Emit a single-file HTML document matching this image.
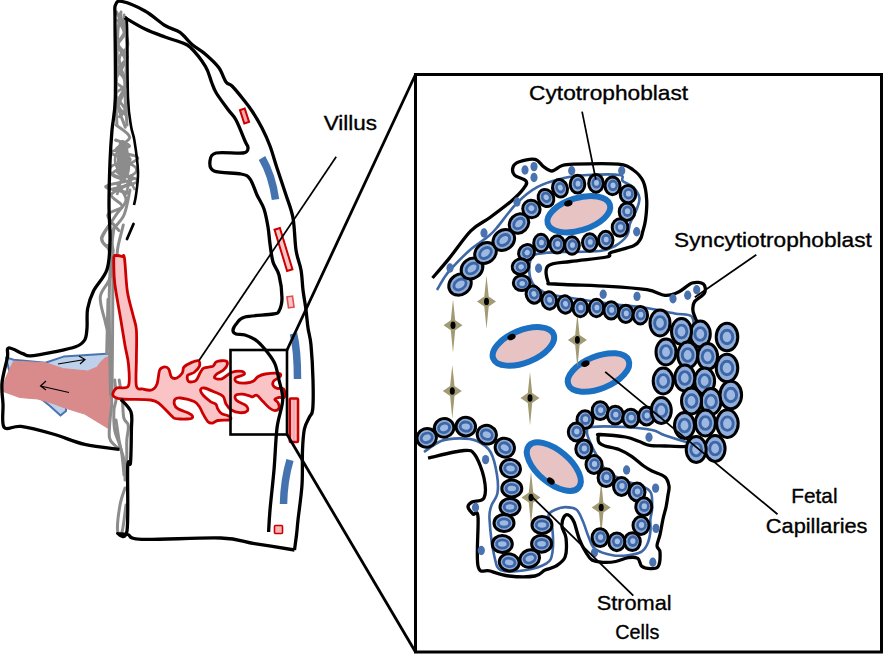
<!DOCTYPE html>
<html><head><meta charset="utf-8"><style>
html,body{margin:0;padding:0;background:#fff;}
svg{display:block;}
text{font-family:"Liberation Sans",sans-serif;fill:#000;}
</style></head><body>
<svg width="888" height="661" viewBox="0 0 888 661">
<rect width="888" height="661" fill="#fff"/>
<polygon points="6,357.4 13.6,359.7 45.4,362.7 63.5,356.6 110.4,353.6 110.4,384 66,404 66,411 60.5,415.6 50,406 40,398 20,394 9,370" fill="#bdd1ea" stroke="#4a74b0" stroke-width="2" stroke-linejoin="round"/>
<polygon points="13.6,361.2 45.4,362.7 63.5,368.7 87.7,371 96.8,367.2 101.4,361.2 105.9,357.4 110,356.6 110,429.5 84.7,414.1 65,408 53,403.5 37.8,399 19.7,397.5 3,391.4 1.5,388.4 9,370.3" fill="#d98a8b" stroke="#d98a8b" stroke-width="1" stroke-linejoin="round"/>
<path d="M58,364 L85,359.5 M79,356 L85,359.5 L80,364" fill="none" stroke="#000" stroke-width="1.2"/>
<path d="M69,392.5 L40.5,386 M46,381 L40.5,386 L46,390" fill="none" stroke="#000" stroke-width="1.2"/>
<path d="M119,142 C122,138 127,140 128,148 L130,160 C131,170 129,178 124,180 C118,178 116,168 117,158 Z" fill="#8c8c8c"/>
<ellipse cx="123" cy="170" rx="13.5" ry="7" fill="none" stroke="#8c8c8c" stroke-width="2.6"/>
<ellipse cx="121" cy="160" rx="6" ry="10" fill="none" stroke="#8c8c8c" stroke-width="2.6"/>
<path d="M127,175 L135,190 M121,180 L117,195 M130,178 L126,195" stroke="#8c8c8c" stroke-width="2.6" fill="none"/>
<path d="M116.6,12.0 C117.9,15.4 124.5,26.9 124.7,32.4 C124.9,38.0 117.7,40.6 117.8,45.3 C117.9,50.0 125.5,54.8 125.2,60.7 C124.8,66.5 115.9,75.4 115.7,80.4 C115.6,85.3 123.8,86.1 124.3,90.3 C124.7,94.5 118.2,101.3 118.5,105.5 C118.8,109.6 124.7,113.5 126.0,115.1" fill="none" stroke="#8c8c8c" stroke-width="3" stroke-linejoin="round" stroke-linecap="round"/>
<path d="M120.0,14.0 C121.3,19.0 127.9,36.5 127.8,43.9 C127.6,51.3 119.6,51.8 119.2,58.6 C118.7,65.4 125.2,77.3 125.0,84.7 C124.8,92.2 117.8,96.3 117.8,103.4 C117.9,110.4 124.1,123.3 125.3,127.2" fill="none" stroke="#8c8c8c" stroke-width="3" stroke-linejoin="round" stroke-linecap="round"/>
<path d="M117.8,20.0 C118.9,22.1 124.0,28.5 124.1,32.6 C124.1,36.6 117.3,40.2 117.9,44.2 C118.4,48.3 127.1,52.9 127.2,57.1 C127.3,61.2 118.1,64.7 118.2,69.2 C118.3,73.7 128.0,79.9 127.6,84.0 C127.1,88.2 116.0,89.9 115.6,94.1 C115.1,98.3 124.2,105.3 124.9,109.1 C125.5,112.9 120.3,115.4 119.4,116.7" fill="none" stroke="#8c8c8c" stroke-width="3" stroke-linejoin="round" stroke-linecap="round"/>
<path d="M121.0,12.0 C120.5,15.0 118.7,22.0 118.0,30.0 C117.3,38.0 117.3,48.3 117.0,60.0 C116.7,71.7 116.0,89.2 116.0,100.0 C116.0,110.8 116.8,120.8 117.0,125.0" fill="none" stroke="#8c8c8c" stroke-width="3" stroke-linejoin="round" stroke-linecap="round"/>
<path d="M124.0,15.0 C124.5,20.8 126.8,37.5 127.0,50.0 C127.2,62.5 125.0,77.5 125.0,90.0 C125.0,102.5 126.7,119.2 127.0,125.0" fill="none" stroke="#8c8c8c" stroke-width="3" stroke-linejoin="round" stroke-linecap="round"/>
<path d="M116.0,125.0 C118.2,127.1 129.6,133.2 129.7,137.4 C129.7,141.7 114.8,147.0 116.1,150.4 C117.5,153.9 138.5,154.4 137.9,158.3 C137.3,162.1 114.1,169.4 112.5,173.5 C110.9,177.6 128.5,179.4 128.2,182.9 C128.0,186.5 112.3,190.7 111.3,194.7 C110.3,198.6 122.8,203.0 122.2,206.4 C121.6,209.8 108.2,211.0 107.7,215.1 C107.2,219.1 117.1,228.0 119.0,230.6" fill="none" stroke="#8c8c8c" stroke-width="3" stroke-linejoin="round" stroke-linecap="round"/>
<path d="M115.5,140.0 C117.8,141.0 130.3,144.0 129.5,146.1 C128.7,148.3 110.7,150.2 110.7,152.7 C110.6,155.1 127.9,157.7 129.0,161.0 C130.1,164.2 116.9,169.1 117.5,172.1 C118.1,175.1 134.7,176.7 132.7,179.1 C130.8,181.5 106.3,184.2 105.6,186.5 C104.9,188.8 124.6,191.6 128.5,192.7" fill="none" stroke="#8c8c8c" stroke-width="3" stroke-linejoin="round" stroke-linecap="round"/>
<path d="M116.1,150.0 C118.5,151.6 130.0,156.2 130.2,159.5 C130.4,162.9 116.0,166.8 117.3,170.4 C118.5,174.0 138.4,178.0 137.7,181.1 C137.0,184.2 117.0,187.6 112.9,188.9" fill="none" stroke="#8c8c8c" stroke-width="3" stroke-linejoin="round" stroke-linecap="round"/>
<path d="M118.0,185.0 C119.3,187.5 126.3,195.0 126.0,200.0 C125.7,205.0 120.0,208.7 116.0,215.0 C112.0,221.3 103.3,232.5 102.0,238.0 C100.7,243.5 106.3,244.7 108.0,248.0 C109.7,251.3 111.3,256.3 112.0,258.0" fill="none" stroke="#8c8c8c" stroke-width="3" stroke-linejoin="round" stroke-linecap="round"/>
<path d="M130.0,190.0 C129.0,194.2 127.0,208.0 124.0,215.0 C121.0,222.0 113.8,226.2 112.0,232.0 C110.2,237.8 112.8,247.0 113.0,250.0" fill="none" stroke="#8c8c8c" stroke-width="3" stroke-linejoin="round" stroke-linecap="round"/>
<path d="M109.2,225.0 C107.9,227.1 102.1,234.4 101.5,237.8 C100.9,241.2 103.9,243.4 105.4,245.5 C106.9,247.6 109.9,241.2 110.5,250.6 C111.1,260.0 109.2,278.0 109.2,302.0 C109.2,326.0 110.3,379.1 110.5,394.5" fill="none" stroke="#8c8c8c" stroke-width="3" stroke-linejoin="round" stroke-linecap="round"/>
<path d="M114.4,225.0 C114.0,228.4 112.5,236.9 111.8,245.5 C111.1,254.1 112.4,267.8 110.5,276.3 C108.6,284.9 101.1,289.1 100.3,296.8 C99.5,304.5 103.9,315.1 105.4,322.4 C106.9,329.7 108.3,330.8 109.2,340.4 C110.1,350.0 110.7,373.4 111.0,380.0" fill="none" stroke="#8c8c8c" stroke-width="3" stroke-linejoin="round" stroke-linecap="round"/>
<path d="M108,299.4 L106.7,353.2" fill="none" stroke="#8c8c8c" stroke-width="3" stroke-linejoin="round" stroke-linecap="round"/>
<path d="M123.3,225.0 C122.5,228.4 119.2,240.4 118.2,245.5 C117.2,250.6 117.2,254.1 117.0,255.8" fill="none" stroke="#8c8c8c" stroke-width="3" stroke-linejoin="round" stroke-linecap="round"/>
<path d="M113.0,250.0 C112.9,263.3 112.8,306.0 112.6,330.0 C112.4,354.0 112.1,383.3 112.0,394.0" fill="none" stroke="#8c8c8c" stroke-width="3" stroke-linejoin="round" stroke-linecap="round"/>
<path d="M110.2,380.0 C110.5,383.8 111.7,396.4 111.7,402.7 C111.7,409.0 110.6,412.1 110.2,417.9 C109.8,423.7 108.7,433.1 109.4,437.6 C110.2,442.2 112.8,443.2 114.7,445.2 C116.6,447.2 119.8,448.9 120.8,449.7" fill="none" stroke="#8c8c8c" stroke-width="3" stroke-linejoin="round" stroke-linecap="round"/>
<path d="M114.7,380.0 C115.0,383.0 116.3,393.1 116.2,398.2 C116.1,403.2 114.2,405.0 113.9,410.3 C113.7,415.6 113.8,424.4 114.7,430.0 C115.6,435.6 117.7,438.8 119.2,443.6 C120.7,448.4 122.8,454.8 123.8,458.8 C124.8,462.9 125.1,464.4 125.3,467.9 C125.5,471.4 125.0,478.0 125.0,480.0" fill="none" stroke="#8c8c8c" stroke-width="3" stroke-linejoin="round" stroke-linecap="round"/>
<path d="M119.2,380.0 C119.7,383.3 121.5,393.4 122.3,399.7 C123.1,406.0 122.8,413.6 123.8,417.9 C124.8,422.2 127.8,421.7 128.3,425.5 C128.8,429.3 127.0,435.6 126.8,440.6 C126.5,445.7 126.9,450.9 126.8,455.8 C126.7,460.7 126.1,467.6 126.0,470.0" fill="none" stroke="#8c8c8c" stroke-width="3" stroke-linejoin="round" stroke-linecap="round"/>
<path d="M116.0,420.0 C116.5,423.3 118.0,434.2 119.0,440.0 C120.0,445.8 121.2,449.2 122.0,455.0 C122.8,460.8 123.7,471.7 124.0,475.0" fill="none" stroke="#8c8c8c" stroke-width="3" stroke-linejoin="round" stroke-linecap="round"/>
<path d="M125.0,488.0 C124.2,490.8 121.2,498.0 120.0,505.0 C118.8,512.0 117.2,525.5 117.5,530.0 C117.8,534.5 120.6,536.2 122.0,532.0 C123.4,527.8 125.3,509.5 126.0,505.0" fill="none" stroke="#8c8c8c" stroke-width="3" stroke-linejoin="round" stroke-linecap="round"/>
<path d="M114.0,256.5 C114.4,254.9 114.7,255.5 116.0,255.5 C117.3,255.5 120.6,256.0 122.0,256.5 C123.4,257.0 123.6,252.8 124.5,258.5 C125.4,264.2 125.9,281.6 127.3,291.0 C128.7,300.4 131.5,308.5 133.0,315.0 C134.5,321.5 135.8,322.7 136.4,330.0 C137.0,337.3 136.4,349.7 136.4,359.0 C136.4,368.3 135.3,381.0 136.4,386.0 C137.5,391.0 140.5,388.3 143.0,389.0 C145.5,389.7 149.3,390.8 151.6,390.0 C153.9,389.2 155.7,387.3 157.0,384.0 C158.3,380.7 158.5,372.8 159.7,370.0 C160.9,367.2 162.5,367.2 164.0,367.0 C165.5,366.8 167.5,367.3 168.7,369.0 C169.9,370.7 170.1,375.5 171.4,377.0 C172.8,378.5 175.0,378.7 176.8,378.0 C178.6,377.3 181.1,374.8 182.3,373.0 C183.5,371.2 182.5,368.7 184.0,367.0 C185.5,365.3 188.9,363.6 191.3,362.6 C193.7,361.6 197.2,360.2 198.5,360.8 C199.8,361.4 200.2,364.2 199.4,366.2 C198.7,368.1 195.9,371.0 194.0,372.5 C192.1,374.0 188.6,373.7 187.7,375.2 C186.8,376.7 187.2,380.6 188.6,381.5 C189.9,382.4 193.9,382.1 195.8,380.6 C197.8,379.1 199.0,374.6 200.3,372.5 C201.7,370.4 201.8,369.1 203.9,368.0 C206.0,366.9 210.8,367.2 212.9,366.2 C215.0,365.1 214.4,362.6 216.5,361.7 C218.6,360.8 223.7,360.4 225.5,360.8 C227.3,361.2 227.6,362.9 227.3,364.4 C227.0,365.9 225.5,368.1 223.7,369.8 C221.9,371.5 218.0,372.9 216.5,374.3 C215.0,375.7 213.8,377.2 214.7,378.0 C215.6,378.8 219.1,379.7 221.9,378.8 C224.7,377.9 228.1,373.7 231.4,372.5 C234.8,371.3 239.9,371.0 242.0,371.4 C244.1,371.8 245.1,373.5 244.0,374.6 C242.9,375.7 236.8,376.6 235.6,377.8 C234.4,379.0 234.9,381.1 236.7,382.0 C238.5,382.9 243.4,383.2 246.2,383.0 C249.0,382.8 251.7,382.1 253.6,381.0 C255.5,379.9 255.9,377.9 257.8,376.7 C259.8,375.5 261.8,374.5 265.3,374.0 C268.8,373.5 276.6,373.1 279.0,373.5 C281.4,373.9 280.9,375.4 280.0,376.7 C279.1,377.9 274.8,379.5 273.7,381.0 C272.6,382.5 272.6,384.5 273.2,385.7 C273.8,386.9 275.5,387.9 277.0,388.4 C278.5,388.8 281.0,388.1 282.2,388.4 C283.4,388.7 283.9,388.5 284.3,390.0 C284.7,391.5 285.2,396.2 284.3,397.4 C283.4,398.6 280.6,397.0 279.0,397.4 C277.4,397.8 275.0,398.6 274.8,399.5 C274.6,400.4 277.3,401.3 278.0,402.7 C278.7,404.1 279.5,406.7 279.0,408.0 C278.5,409.3 276.4,410.6 274.8,410.6 C273.2,410.6 271.5,409.5 269.5,408.0 C267.5,406.5 265.1,403.7 263.0,401.6 C260.9,399.5 258.6,396.1 256.8,395.3 C255.1,394.5 253.7,396.7 252.5,396.8 C251.3,396.9 251.2,396.2 249.4,395.8 C247.7,395.4 244.3,394.3 242.0,394.2 C239.7,394.1 236.5,394.2 235.6,395.3 C234.7,396.4 234.9,398.9 236.7,400.6 C238.5,402.4 244.4,404.1 246.2,405.8 C247.9,407.5 248.3,409.9 247.2,411.0 C246.1,412.1 242.4,412.9 239.8,412.7 C237.2,412.5 233.7,411.4 231.4,410.0 C229.1,408.6 227.4,406.3 226.0,404.0 C224.6,401.7 225.0,398.2 223.0,396.2 C221.0,394.1 217.2,393.1 214.0,391.7 C210.8,390.3 206.2,388.3 204.0,388.0 C201.8,387.7 200.6,388.8 200.5,390.0 C200.4,391.2 201.5,393.4 203.2,395.3 C204.9,397.2 208.4,400.1 210.5,401.6 C212.6,403.1 214.7,403.1 215.9,404.3 C217.1,405.5 216.8,407.3 217.7,408.8 C218.6,410.3 219.5,412.1 221.3,413.3 C223.1,414.5 226.9,415.2 228.5,416.0 C230.1,416.8 231.0,417.3 231.0,418.0 C231.0,418.7 230.7,419.6 228.5,420.0 C226.3,420.4 220.4,420.0 217.7,420.5 C215.0,421.0 213.9,423.1 212.2,423.2 C210.5,423.3 209.2,422.9 207.7,421.4 C206.2,419.9 204.5,416.6 203.2,414.2 C201.8,411.8 201.1,409.1 199.6,407.0 C198.1,404.9 197.3,403.1 194.2,401.6 C191.0,400.1 183.8,398.4 180.7,398.0 C177.5,397.6 176.4,397.9 175.3,399.0 C174.2,400.1 174.0,402.7 174.4,404.3 C174.8,405.9 175.6,407.3 178.0,408.8 C180.4,410.3 186.4,412.1 188.8,413.3 C191.2,414.5 192.1,415.1 192.4,416.0 C192.7,416.9 193.3,418.2 190.6,418.7 C187.9,419.1 179.3,419.1 176.2,418.7 C173.0,418.2 174.4,418.4 171.7,416.0 C169.0,413.6 163.5,407.0 160.0,404.3 C156.5,401.6 157.0,400.9 150.6,400.0 C144.2,399.1 127.8,399.8 121.5,399.0 C115.2,398.2 113.8,397.3 113.0,395.5 C112.2,393.7 114.1,389.6 116.7,388.0 C119.3,386.4 126.5,390.1 128.4,386.0 C130.3,381.9 129.0,370.4 128.4,363.6 C127.8,356.9 126.3,353.1 125.0,345.5 C123.7,337.9 122.2,328.2 120.5,318.0 C118.8,307.8 115.9,292.8 114.8,284.0 C113.7,275.2 113.9,269.6 113.8,265.0 C113.7,260.4 113.6,258.1 114.0,256.5 Z" fill="#fac4c6" stroke="#cc0000" stroke-width="2.8" stroke-linejoin="round"/>
<path d="M119.4,449.3 C113.6,448.5 95.8,446.9 84.7,444.4 C73.6,441.8 63.6,437.0 53.0,434.0 C42.4,431.0 29.1,427.5 21.0,426.4 C12.9,425.3 7.2,431.2 4.2,427.5 C1.2,423.8 3.4,411.4 3.0,404.0 C2.6,396.6 1.3,390.8 2.0,383.0 C2.7,375.2 6.3,363.3 7.4,357.5 C8.5,351.7 6.0,348.6 8.5,348.0 C11.1,347.4 19.1,352.3 22.7,353.6 C26.3,354.9 25.2,356.1 30.3,355.9 C35.4,355.6 45.5,353.6 53.0,352.1 C60.5,350.6 70.3,348.8 75.6,346.8 C80.9,344.8 82.8,343.1 84.7,340.0 C86.6,336.9 86.5,333.2 87.0,328.0 C87.5,322.8 86.5,314.9 87.6,308.7 C88.7,302.5 90.3,297.6 93.5,291.0 C96.7,284.4 104.2,277.9 107.0,269.4 C109.8,260.9 109.7,250.7 110.0,240.0 C110.3,229.3 109.0,218.0 109.0,205.0 C109.0,192.0 109.5,174.5 110.0,162.0 C110.5,149.5 111.1,140.7 112.0,130.0 C112.9,119.3 114.8,116.3 115.3,98.0 C115.8,79.7 115.0,35.5 115.0,20.0 C115.0,4.5 114.3,8.1 115.5,5.0 C116.7,1.9 117.1,0.5 122.0,1.5 C126.9,2.5 137.8,7.0 145.0,11.0 C152.2,15.0 159.2,21.9 165.0,25.5 C170.8,29.1 175.5,29.2 180.0,32.4 C184.5,35.6 187.8,40.9 192.0,44.5 C196.2,48.1 201.0,50.4 205.4,54.2 C209.8,58.0 215.3,62.9 218.7,67.5 C222.1,72.1 223.8,78.9 226.0,82.0 C228.2,85.1 229.2,83.2 232.0,86.0 C234.8,88.8 239.7,94.8 243.0,99.0 C246.3,103.2 248.8,106.2 252.0,111.0 C255.2,115.8 259.0,122.2 262.0,128.0 C265.0,133.8 267.5,139.3 270.0,146.0 C272.5,152.7 274.3,159.8 277.0,168.0 C279.7,176.2 283.3,186.7 286.0,195.0 C288.7,203.3 291.3,208.8 293.0,218.0 C294.7,227.2 294.7,241.3 296.0,250.0 C297.3,258.7 299.8,263.3 301.0,270.0 C302.2,276.7 302.2,283.3 303.0,290.0 C303.8,296.7 305.2,303.7 306.0,310.0 C306.8,316.3 307.2,322.2 308.0,328.0 C308.8,333.8 310.2,336.3 311.0,345.0 C311.8,353.7 312.7,369.2 313.0,380.0 C313.3,390.8 313.3,403.3 312.7,409.5 C312.1,415.7 310.7,414.1 309.3,417.4 C307.9,420.6 305.5,423.6 304.4,429.0 C303.3,434.4 302.9,440.7 302.5,450.0 C302.1,459.3 302.8,473.3 302.0,485.0 C301.2,496.7 298.9,511.7 298.0,520.0 C297.1,528.3 297.1,530.0 296.5,535.0 C295.9,540.0 294.8,547.5 294.5,550.0" fill="none" stroke="#000" stroke-width="3.3" stroke-linejoin="round"/>
<path d="M294.5,550.0 C287.8,548.9 266.8,545.6 254.5,543.6 C242.2,541.6 239.6,538.7 220.8,538.0 C202.1,537.3 157.5,540.0 142.0,539.4 C126.5,538.8 131.8,535.5 127.7,534.5 C123.7,533.5 117.8,534.2 117.7,533.6 C117.6,533.0 125.3,542.2 127.0,531.0 C128.7,519.8 127.1,477.8 127.7,466.4 C128.3,455.0 129.9,468.8 130.5,462.7 C131.1,456.6 131.3,438.4 131.4,430.0 C131.5,421.6 132.7,417.1 131.0,412.0 C129.3,406.9 122.7,401.5 121.0,399.4" fill="none" stroke="#000" stroke-width="3.3" stroke-linejoin="round"/>
<path d="M125.0,17.7 C128.3,19.6 138.3,25.8 145.0,29.0 C151.7,32.2 159.2,34.8 165.0,37.0 C170.8,39.2 175.8,40.3 180.0,42.0 C184.2,43.7 185.8,43.0 190.0,47.0 C194.2,51.0 201.8,60.5 205.4,66.3 C209.0,72.1 209.7,77.5 211.5,82.0 C213.3,86.5 213.5,88.3 216.3,93.0 C219.1,97.7 225.1,105.5 228.4,110.0 C231.7,114.5 233.2,114.8 236.0,120.0 C238.8,125.2 243.0,136.3 245.0,141.0 C247.0,145.7 248.3,146.0 248.0,148.0 C247.7,150.0 248.3,152.2 243.0,153.0 C237.7,153.8 221.5,151.7 216.0,153.0 C210.5,154.3 210.3,158.0 210.0,161.0 C209.7,164.0 208.8,168.8 214.0,171.0 C219.2,173.2 235.0,172.7 241.0,174.0 C247.0,175.3 247.3,175.5 250.0,179.0 C252.7,182.5 254.7,190.0 257.0,195.0 C259.3,200.0 262.2,203.7 264.0,209.0 C265.8,214.3 267.0,221.2 268.0,227.0 C269.0,232.8 269.2,238.2 270.0,244.0 C270.8,249.8 271.5,256.8 273.0,262.0 C274.5,267.2 277.5,269.0 279.0,275.0 C280.5,281.0 282.0,292.0 282.0,298.0 C282.0,304.0 280.5,308.3 279.0,311.0 C277.5,313.7 278.7,313.0 273.0,314.0 C267.3,315.0 251.0,315.5 245.0,317.0 C239.0,318.5 239.0,320.8 237.0,323.0 C235.0,325.2 233.2,328.2 233.0,330.0 C232.8,331.8 234.0,333.2 236.0,334.0 C238.0,334.8 241.5,333.8 245.0,335.0 C248.5,336.2 253.2,338.0 257.0,341.0 C260.8,344.0 265.0,349.2 268.0,353.0 C271.0,356.8 273.2,359.5 275.0,364.0 C276.8,368.5 277.7,374.0 279.0,380.0 C280.3,386.0 283.0,392.0 282.7,400.0 C282.4,408.0 278.4,416.3 277.0,428.0 C275.6,439.7 275.2,456.3 274.0,470.0 C272.8,483.7 270.9,499.7 270.0,510.0 C269.1,520.3 268.8,528.3 268.6,532.0" fill="none" stroke="#000" stroke-width="3.3" stroke-linejoin="round"/>
<path d="M125.0,18.0 C125.3,19.3 126.5,12.7 127.0,26.0 C127.5,39.3 127.3,81.3 128.0,98.0 C128.7,114.7 129.9,118.8 131.0,126.0 C132.1,133.2 133.3,133.3 134.5,141.0 C135.7,148.7 137.8,163.0 138.0,172.0 C138.2,181.0 136.7,189.5 136.0,195.0 C135.3,200.5 134.3,203.3 134.0,205.0" fill="none" stroke="#000" stroke-width="2.6"/>
<path d="M133.5,224 L127,239" fill="none" stroke="#000" stroke-width="2.8" stroke-linecap="round"/>
<rect x="-2.5" y="-7" width="5" height="14" transform="translate(244.5,116) rotate(-18)" fill="#f7a8ac" stroke="#cc0000" stroke-width="2"/>
<path d="M262,158 Q272,175 275.5,199.5" fill="none" stroke="#4573b0" stroke-width="7.5" stroke-linecap="butt" stroke-linejoin="round"/>
<rect x="-2.8" y="-21.5" width="5.6" height="43" transform="translate(283.5,249.5) rotate(-17)" fill="#f9c6c8" stroke="#cc0000" stroke-width="2"/>
<rect x="-2.8" y="-5.5" width="5.6" height="11" transform="translate(290.5,302) rotate(-8)" fill="#f9c6c8" stroke="#e05050" stroke-width="1.6"/>
<path d="M293.5,333.5 Q297.5,350 297.5,379" fill="none" stroke="#4573b0" stroke-width="7.5" stroke-linecap="butt"/>
<defs><linearGradient id="rg" x1="0" y1="0" x2="1" y2="0"><stop offset="0" stop-color="#fde8ea"/><stop offset="0.5" stop-color="#f6a2a9"/><stop offset="1" stop-color="#fde8ea"/></linearGradient></defs>
<rect x="289.8" y="398.5" width="8.2" height="43.5" rx="1" fill="url(#rg)" stroke="#cc0000" stroke-width="2.6"/>
<path d="M290,460 Q284,480 283.5,504" fill="none" stroke="#4573b0" stroke-width="7.5" stroke-linecap="butt"/>
<rect x="274.5" y="525.5" width="8" height="8" rx="1" fill="#f7b5b8" stroke="#cc0000" stroke-width="1.6"/>
<rect x="230.5" y="350" width="56.5" height="84.5" fill="none" stroke="#000" stroke-width="2.6"/>
<path d="M415.5,74.5 L286.8,350.5" stroke="#000" stroke-width="2.8"/>
<path d="M415.5,652 L286.8,434" stroke="#000" stroke-width="2.8"/>
<path d="M336.2,156.8 L199,360.5" stroke="#000" stroke-width="1.7"/>
<rect x="415.5" y="74.5" width="466" height="577.5" fill="#fff" stroke="#000" stroke-width="3"/>
<path d="M437.0,290.0 C438.2,288.0 441.7,281.5 444.0,278.0 C446.3,274.5 446.7,273.7 451.0,269.0 C455.3,264.3 463.8,255.4 470.0,250.0 C476.2,244.6 483.6,240.3 488.0,236.6 C492.4,232.9 491.8,233.6 496.6,228.0 C501.4,222.4 510.2,209.8 517.0,203.0 C523.8,196.2 529.8,191.1 537.6,186.9 C545.4,182.7 555.7,180.0 564.0,178.0 C572.3,176.0 578.1,175.5 587.4,175.0 C596.7,174.5 613.8,174.0 619.7,175.0 C625.6,176.0 620.5,179.0 622.7,181.0 C624.9,183.0 630.2,184.2 633.0,187.0 C635.8,189.8 638.8,194.2 639.4,198.0 C640.0,201.8 638.0,205.8 636.4,210.0 C634.8,214.2 631.6,219.2 630.0,223.5 C628.4,227.8 629.5,231.8 627.0,235.6 C624.5,239.3 619.5,243.4 615.0,246.0 C610.5,248.6 608.5,250.0 600.0,251.0 C591.5,252.0 573.2,251.7 564.0,252.0 C554.8,252.3 550.2,252.3 545.0,253.0 C539.8,253.7 535.3,253.2 532.7,256.0 C530.1,258.8 529.2,265.4 529.2,270.0 C529.2,274.6 530.7,279.9 532.7,283.3 C534.7,286.7 537.5,288.6 541.0,290.5 C544.5,292.4 542.7,292.9 553.4,295.0 C564.1,297.1 589.4,300.8 605.0,303.0 C620.6,305.2 635.4,306.2 647.0,308.0 C658.6,309.8 667.2,312.2 674.5,313.5 C681.8,314.8 687.8,313.8 691.0,316.0 C694.2,318.2 693.5,325.2 694.0,327.0" fill="none" stroke="#3e68a6" stroke-width="2.6"/>
<path d="M424.0,452.0 C426.8,450.2 435.1,443.3 441.0,441.0 C446.9,438.7 453.6,438.4 459.6,438.4 C465.6,438.4 471.9,438.7 477.0,441.0 C482.1,443.3 487.2,446.3 490.5,452.0 C493.8,457.7 495.9,468.1 497.0,475.0 C498.1,481.9 498.3,488.5 497.4,493.6 C496.5,498.7 492.8,501.1 491.5,505.4 C490.2,509.7 489.0,510.7 489.5,519.2 C490.0,527.7 492.4,548.0 494.4,556.5 C496.4,565.0 496.2,568.0 501.3,570.3 C506.4,572.6 517.4,571.4 524.9,570.3 C532.4,569.1 541.9,566.3 546.5,563.4 C551.1,560.5 551.4,558.3 552.4,552.6 C553.4,546.9 553.0,535.2 552.4,529.0 C551.8,522.8 547.9,518.5 548.5,515.2 C549.1,512.0 553.0,510.9 555.8,509.5 C558.6,508.1 561.8,507.1 565.2,507.1 C568.6,507.1 573.4,507.3 576.3,509.5 C579.2,511.7 580.5,515.8 582.6,520.5 C584.7,525.2 586.9,533.1 589.0,537.9 C591.1,542.6 591.3,546.1 595.2,549.0 C599.1,551.9 607.1,554.2 612.6,555.2 C618.1,556.2 623.6,555.7 628.3,555.2 C633.0,554.7 637.8,553.8 641.0,552.0 C644.2,550.2 645.7,547.6 647.3,544.2 C648.9,540.8 649.9,535.7 650.4,531.5 C650.9,527.3 650.1,522.7 650.4,519.0 C650.7,515.3 651.9,513.8 652.0,509.5 C652.1,505.2 652.7,496.9 651.0,493.0 C649.3,489.1 646.3,488.0 642.0,486.0 C637.7,484.0 630.8,483.5 625.0,481.0 C619.2,478.5 611.5,474.8 607.0,471.0 C602.5,467.2 600.8,462.8 598.0,458.0 C595.2,453.2 591.8,446.3 590.0,442.0 C588.2,437.7 586.7,434.5 587.0,432.0 C587.3,429.5 585.7,427.8 592.0,427.0 C598.3,426.2 615.0,426.5 625.0,427.0 C635.0,427.5 645.5,428.7 652.0,430.0 C658.5,431.3 658.2,432.9 664.0,435.0 C669.8,437.1 683.2,441.1 687.0,442.3" fill="none" stroke="#3e68a6" stroke-width="2.6"/>
<path d="M432.5,278.0 C435.2,274.8 442.6,266.5 449.0,258.6 C455.4,250.7 464.0,237.7 470.8,230.8 C477.6,224.0 483.1,222.6 490.0,217.5 C496.9,212.4 506.3,205.4 512.0,200.5 C517.7,195.6 521.7,191.2 524.0,188.0 C526.3,184.8 527.6,183.2 526.0,181.0 C524.4,178.8 516.5,177.4 514.4,175.0 C512.3,172.6 512.4,168.8 513.2,166.6 C514.0,164.4 515.7,163.0 519.3,161.8 C522.9,160.6 531.0,158.6 535.0,159.4 C539.0,160.2 540.7,164.7 543.5,166.6 C546.3,168.5 549.0,171.1 552.0,171.0 C555.0,170.9 558.2,166.9 561.7,165.8 C565.2,164.7 563.9,164.5 573.3,164.2 C582.7,163.9 608.3,163.2 618.3,164.2 C628.3,165.2 629.1,167.1 633.3,170.0 C637.5,172.9 641.1,176.7 643.3,181.7 C645.5,186.7 646.3,193.6 646.7,200.0 C647.1,206.4 646.2,214.7 645.5,220.0 C644.8,225.3 643.5,228.8 642.6,232.0 C641.8,235.2 641.9,236.7 640.4,239.0 C638.9,241.3 638.5,243.6 633.6,245.8 C628.7,248.1 615.5,250.6 611.0,252.5 C606.5,254.4 613.4,255.5 606.6,257.0 C599.9,258.5 580.3,260.0 570.5,261.5 C560.7,263.0 551.8,262.6 548.0,266.0 C544.2,269.4 546.9,278.8 548.0,281.8 C549.1,284.8 544.7,283.2 554.8,284.0 C564.9,284.8 593.4,285.4 608.8,286.3 C624.2,287.2 637.6,288.2 647.0,289.7 C656.4,291.2 659.7,294.9 665.0,295.3 C670.3,295.7 674.1,294.1 678.6,292.0 C683.1,289.9 688.1,284.3 692.2,283.0 C696.3,281.7 701.4,282.3 703.4,284.0 C705.4,285.7 706.0,290.0 704.5,293.0 C703.0,296.0 696.3,299.0 694.4,302.0 C692.5,305.0 692.6,307.7 693.0,311.0 C693.4,314.3 696.3,320.2 697.0,322.0" fill="none" stroke="#000" stroke-width="3.3" stroke-linejoin="round"/>
<path d="M428.0,458.0 C434.0,456.8 456.2,451.0 464.0,450.5 C471.8,450.0 471.7,450.4 475.0,455.0 C478.3,459.6 482.5,470.8 484.0,478.0 C485.5,485.2 486.0,494.0 484.0,498.0 C482.0,502.0 474.7,500.5 472.0,502.0 C469.3,503.5 467.8,505.0 468.0,507.0 C468.2,509.0 471.3,512.3 473.0,514.0 C474.7,515.7 477.2,508.3 478.0,517.0 C478.8,525.7 476.0,557.0 478.0,566.0 C480.0,575.0 484.8,569.3 490.0,571.0 C495.2,572.7 501.5,575.2 509.0,576.0 C516.5,576.8 529.0,577.0 535.0,576.0 C541.0,575.0 541.5,571.6 545.0,570.0 C548.5,568.4 552.4,568.4 555.8,566.2 C559.2,564.0 563.5,561.5 565.2,556.8 C566.9,552.1 566.5,542.9 566.0,537.9 C565.5,532.9 562.4,530.2 562.0,526.8 C561.6,523.4 562.6,519.4 563.7,517.4 C564.8,515.4 566.7,514.2 568.4,515.0 C570.1,515.8 572.2,517.9 574.0,522.0 C575.8,526.1 577.4,534.4 579.4,539.4 C581.4,544.4 583.6,548.6 585.7,552.0 C587.8,555.4 589.1,558.3 592.0,560.0 C594.9,561.7 599.0,562.0 603.0,562.3 C607.0,562.5 611.5,562.3 615.7,561.5 C619.9,560.7 624.6,558.1 628.3,557.6 C632.0,557.1 635.6,557.0 637.8,558.4 C640.0,559.8 639.6,564.5 641.7,566.2 C643.8,567.9 647.6,568.6 650.4,568.6 C653.2,568.6 656.7,569.0 658.3,566.2 C659.9,563.4 660.2,555.4 660.0,552.0 C659.8,548.6 657.0,548.6 657.0,545.7 C657.0,542.8 659.0,539.2 660.0,534.7 C661.0,530.2 662.0,523.7 663.0,519.0 C664.0,514.3 665.4,510.3 666.2,506.3 C667.0,502.3 667.5,498.4 668.0,495.0 C668.5,491.6 669.5,489.0 669.0,486.0 C668.5,483.0 667.8,479.5 665.0,477.0 C662.2,474.5 655.5,472.8 652.0,471.0 C648.5,469.2 647.1,468.4 643.7,466.0 C640.3,463.6 635.6,459.0 631.6,456.3 C627.6,453.6 623.9,451.4 619.5,449.7 C615.1,448.0 608.4,447.2 605.0,446.0 C601.6,444.8 600.1,444.1 599.0,442.4 C597.9,440.7 598.1,437.3 598.3,436.0 C598.5,434.7 595.5,434.3 600.0,434.5 C604.5,434.7 618.8,435.8 625.5,437.0 C632.2,438.2 636.0,440.4 640.0,441.8 C644.0,443.2 645.5,444.7 649.7,445.4 C653.9,446.1 659.5,445.8 665.0,446.0 C670.5,446.2 678.8,446.6 683.0,446.6 C687.2,446.6 688.8,446.1 690.0,446.0" fill="none" stroke="#000" stroke-width="3.3" stroke-linejoin="round"/>
<ellipse cx="450" cy="268" rx="3.6" ry="4.7" fill="#4a72ae"/>
<ellipse cx="484" cy="233" rx="3.6" ry="4.7" fill="#4a72ae"/>
<ellipse cx="517" cy="202" rx="3.6" ry="4.7" fill="#4a72ae"/>
<ellipse cx="525" cy="170" rx="3.6" ry="4.7" fill="#4a72ae"/>
<ellipse cx="534" cy="166.6" rx="3.6" ry="4.7" fill="#4a72ae"/>
<ellipse cx="534" cy="177.5" rx="3.6" ry="4.7" fill="#4a72ae"/>
<ellipse cx="538.6" cy="268.3" rx="3.6" ry="4.7" fill="#4a72ae"/>
<ellipse cx="571.7" cy="170.8" rx="3.6" ry="4.7" fill="#4a72ae"/>
<ellipse cx="621.7" cy="170.8" rx="3.6" ry="4.7" fill="#4a72ae"/>
<ellipse cx="636.7" cy="231.7" rx="3.6" ry="4.7" fill="#4a72ae"/>
<ellipse cx="603.2" cy="294.2" rx="3.6" ry="4.7" fill="#4a72ae"/>
<ellipse cx="637" cy="296.4" rx="3.6" ry="4.7" fill="#4a72ae"/>
<ellipse cx="673" cy="298.7" rx="3.6" ry="4.7" fill="#4a72ae"/>
<ellipse cx="687.7" cy="295.3" rx="3.6" ry="4.7" fill="#4a72ae"/>
<ellipse cx="696.7" cy="289.7" rx="3.6" ry="4.7" fill="#4a72ae"/>
<ellipse cx="649" cy="437.2" rx="3.6" ry="4.7" fill="#4a72ae"/>
<ellipse cx="626.6" cy="470" rx="3.6" ry="4.7" fill="#4a72ae"/>
<ellipse cx="655.6" cy="488.1" rx="3.6" ry="4.7" fill="#4a72ae"/>
<ellipse cx="656" cy="528.4" rx="3.6" ry="4.7" fill="#4a72ae"/>
<ellipse cx="652.8" cy="562.3" rx="3.6" ry="4.7" fill="#4a72ae"/>
<ellipse cx="594.4" cy="552.8" rx="3.6" ry="4.7" fill="#4a72ae"/>
<ellipse cx="485.6" cy="459.6" rx="3.6" ry="4.7" fill="#4a72ae"/>
<ellipse cx="475.5" cy="507.5" rx="3.6" ry="4.7" fill="#4a72ae"/>
<ellipse cx="481.3" cy="550.5" rx="3.6" ry="4.7" fill="#4a72ae"/>
<g transform="translate(578.8,214.2) rotate(-17)"><ellipse rx="32.5" ry="16.2" fill="#e7c3c3" stroke="#1b70c2" stroke-width="6"/></g><ellipse cx="568.3" cy="203.3" rx="4.3" ry="3" transform="rotate(-17 568.3 203.3)" fill="#000"/>
<g transform="translate(523.4,346.4) rotate(-22)"><ellipse rx="32.5" ry="16.2" fill="#e7c3c3" stroke="#1b70c2" stroke-width="6"/></g><ellipse cx="511.5" cy="337" rx="4.3" ry="3" transform="rotate(-22 511.5 337)" fill="#000"/>
<g transform="translate(598.5,372.5) rotate(-22)"><ellipse rx="32.5" ry="16.2" fill="#e7c3c3" stroke="#1b70c2" stroke-width="6"/></g><ellipse cx="585.4" cy="363.6" rx="4.3" ry="3" transform="rotate(-22 585.4 363.6)" fill="#000"/>
<g transform="translate(553.8,466.6) rotate(40)"><ellipse rx="32.5" ry="16.2" fill="#e7c3c3" stroke="#1b70c2" stroke-width="6"/></g><ellipse cx="550.8" cy="481" rx="4.3" ry="3" transform="rotate(40 550.8 481)" fill="#000"/>
<path d="M486.5,275.5 L488.7,296.5 L496.0,301.5 L488.7,306.5 L486.5,329.0 L484.3,306.5 L477.0,301.5 L484.3,296.5 Z" fill="#a19a72"/><ellipse cx="486.5" cy="301.5" rx="2.5" ry="3.8" fill="#000"/>
<path d="M453,299.3 L455.2,320.3 L462.5,325.3 L455.2,330.3 L453,352.8 L450.8,330.3 L443.5,325.3 L450.8,320.3 Z" fill="#a19a72"/><ellipse cx="453" cy="325.3" rx="2.5" ry="3.8" fill="#000"/>
<path d="M577.4,313.9 L579.6,334.9 L586.9,339.9 L579.6,344.9 L577.4,367.4 L575.1999999999999,344.9 L567.9,339.9 L575.1999999999999,334.9 Z" fill="#a19a72"/><ellipse cx="577.4" cy="339.9" rx="2.5" ry="3.8" fill="#000"/>
<path d="M452.3,365 L454.5,386 L461.8,391 L454.5,396 L452.3,418.5 L450.1,396 L442.8,391 L450.1,386 Z" fill="#a19a72"/><ellipse cx="452.3" cy="391" rx="2.5" ry="3.8" fill="#000"/>
<path d="M530,372 L532.2,393 L539.5,398 L532.2,403 L530,425.5 L527.8,403 L520.5,398 L527.8,393 Z" fill="#a19a72"/><ellipse cx="530" cy="398" rx="2.5" ry="3.8" fill="#000"/>
<path d="M531,471.5 L533.2,492.5 L540.5,497.5 L533.2,502.5 L531,525.0 L528.8,502.5 L521.5,497.5 L528.8,492.5 Z" fill="#a19a72"/><ellipse cx="531" cy="497.5" rx="2.5" ry="3.8" fill="#000"/>
<path d="M601.2,481.5 L603.4000000000001,502.5 L610.7,507.5 L603.4000000000001,512.5 L601.2,535.0 L599.0,512.5 L591.7,507.5 L599.0,502.5 Z" fill="#a19a72"/><ellipse cx="601.2" cy="507.5" rx="2.5" ry="3.8" fill="#000"/>
<g transform="translate(460,284.5) rotate(-35)"><ellipse rx="11.80" ry="10.00" fill="#90aedd" stroke="#000" stroke-width="3.0"/><ellipse rx="6.65" ry="4.83" fill="#9db8e2" stroke="#3c66a4" stroke-width="2.8"/></g>
<g transform="translate(472,268.5) rotate(-38)"><ellipse rx="11.50" ry="9.70" fill="#90aedd" stroke="#000" stroke-width="3.0"/><ellipse rx="6.50" ry="4.70" fill="#9db8e2" stroke="#3c66a4" stroke-width="2.8"/></g>
<g transform="translate(485.5,253) rotate(-40)"><ellipse rx="11.50" ry="9.70" fill="#90aedd" stroke="#000" stroke-width="3.0"/><ellipse rx="6.50" ry="4.70" fill="#9db8e2" stroke="#3c66a4" stroke-width="2.8"/></g>
<g transform="translate(503.8,240) rotate(-40)"><ellipse rx="11.50" ry="9.70" fill="#90aedd" stroke="#000" stroke-width="3.0"/><ellipse rx="6.50" ry="4.70" fill="#9db8e2" stroke="#3c66a4" stroke-width="2.8"/></g>
<g transform="translate(519,223.5) rotate(-45)"><ellipse rx="10.50" ry="9.00" fill="#90aedd" stroke="#000" stroke-width="3.0"/><ellipse rx="6.00" ry="4.41" fill="#9db8e2" stroke="#3c66a4" stroke-width="2.8"/></g>
<g transform="translate(531.4,209) rotate(-45)"><ellipse rx="8.50" ry="8.90" fill="#90aedd" stroke="#000" stroke-width="3.0"/><ellipse cx="0.5" cy="-0.5" rx="5.60" ry="5.82" fill="#3f68a5"/><ellipse cx="0.5" cy="-0.5" rx="2.80" ry="2.91" fill="#a6c0e8"/></g>
<g transform="translate(546,198) rotate(-30)"><ellipse rx="7.50" ry="8.90" fill="#90aedd" stroke="#000" stroke-width="3.0"/><ellipse cx="0.5" cy="-0.5" rx="5.04" ry="5.82" fill="#3f68a5"/><ellipse cx="0.5" cy="-0.5" rx="2.52" ry="2.91" fill="#a6c0e8"/></g>
<g transform="translate(560,188.3) rotate(-20)"><ellipse rx="7.30" ry="8.90" fill="#90aedd" stroke="#000" stroke-width="3.0"/><ellipse cx="0.5" cy="-0.5" rx="4.93" ry="5.82" fill="#3f68a5"/><ellipse cx="0.5" cy="-0.5" rx="2.46" ry="2.91" fill="#a6c0e8"/></g>
<g transform="translate(577.5,184.2) rotate(0)"><ellipse rx="7.30" ry="8.90" fill="#90aedd" stroke="#000" stroke-width="3.0"/><ellipse cx="0.5" cy="-0.5" rx="4.93" ry="5.82" fill="#3f68a5"/><ellipse cx="0.5" cy="-0.5" rx="2.46" ry="2.91" fill="#a6c0e8"/></g>
<g transform="translate(596,183.3) rotate(0)"><ellipse rx="7.30" ry="8.90" fill="#90aedd" stroke="#000" stroke-width="3.0"/><ellipse cx="0.5" cy="-0.5" rx="4.93" ry="5.82" fill="#3f68a5"/><ellipse cx="0.5" cy="-0.5" rx="2.46" ry="2.91" fill="#a6c0e8"/></g>
<g transform="translate(612.5,185.8) rotate(0)"><ellipse rx="7.50" ry="8.90" fill="#90aedd" stroke="#000" stroke-width="3.0"/><ellipse cx="0.5" cy="-0.5" rx="5.04" ry="5.82" fill="#3f68a5"/><ellipse cx="0.5" cy="-0.5" rx="2.52" ry="2.91" fill="#a6c0e8"/></g>
<g transform="translate(628,194.2) rotate(0)"><ellipse rx="7.80" ry="8.70" fill="#90aedd" stroke="#000" stroke-width="3.0"/><ellipse cx="0.5" cy="-0.5" rx="5.21" ry="5.71" fill="#3f68a5"/><ellipse cx="0.5" cy="-0.5" rx="2.60" ry="2.86" fill="#a6c0e8"/></g>
<g transform="translate(627,211.7) rotate(0)"><ellipse rx="7.80" ry="8.70" fill="#90aedd" stroke="#000" stroke-width="3.0"/><ellipse cx="0.5" cy="-0.5" rx="5.21" ry="5.71" fill="#3f68a5"/><ellipse cx="0.5" cy="-0.5" rx="2.60" ry="2.86" fill="#a6c0e8"/></g>
<g transform="translate(620,227.5) rotate(0)"><ellipse rx="7.80" ry="8.70" fill="#90aedd" stroke="#000" stroke-width="3.0"/><ellipse cx="0.5" cy="-0.5" rx="5.21" ry="5.71" fill="#3f68a5"/><ellipse cx="0.5" cy="-0.5" rx="2.60" ry="2.86" fill="#a6c0e8"/></g>
<g transform="translate(605.7,240) rotate(0)"><ellipse rx="7.30" ry="8.70" fill="#90aedd" stroke="#000" stroke-width="3.0"/><ellipse cx="0.5" cy="-0.5" rx="4.93" ry="5.71" fill="#3f68a5"/><ellipse cx="0.5" cy="-0.5" rx="2.46" ry="2.86" fill="#a6c0e8"/></g>
<g transform="translate(589.8,242.5) rotate(0)"><ellipse rx="7.30" ry="8.70" fill="#90aedd" stroke="#000" stroke-width="3.0"/><ellipse cx="0.5" cy="-0.5" rx="4.93" ry="5.71" fill="#3f68a5"/><ellipse cx="0.5" cy="-0.5" rx="2.46" ry="2.86" fill="#a6c0e8"/></g>
<g transform="translate(572,245.5) rotate(0)"><ellipse rx="7.30" ry="8.70" fill="#90aedd" stroke="#000" stroke-width="3.0"/><ellipse cx="0.5" cy="-0.5" rx="4.93" ry="5.71" fill="#3f68a5"/><ellipse cx="0.5" cy="-0.5" rx="2.46" ry="2.86" fill="#a6c0e8"/></g>
<g transform="translate(557.2,244.4) rotate(0)"><ellipse rx="7.30" ry="8.70" fill="#90aedd" stroke="#000" stroke-width="3.0"/><ellipse cx="0.5" cy="-0.5" rx="4.93" ry="5.71" fill="#3f68a5"/><ellipse cx="0.5" cy="-0.5" rx="2.46" ry="2.86" fill="#a6c0e8"/></g>
<g transform="translate(541,243) rotate(0)"><ellipse rx="7.30" ry="8.70" fill="#90aedd" stroke="#000" stroke-width="3.0"/><ellipse cx="0.5" cy="-0.5" rx="4.93" ry="5.71" fill="#3f68a5"/><ellipse cx="0.5" cy="-0.5" rx="2.46" ry="2.86" fill="#a6c0e8"/></g>
<g transform="translate(526.5,252.6) rotate(40)"><ellipse rx="7.50" ry="8.40" fill="#90aedd" stroke="#000" stroke-width="3.0"/><ellipse cx="0.5" cy="-0.5" rx="5.04" ry="5.54" fill="#3f68a5"/><ellipse cx="0.5" cy="-0.5" rx="2.52" ry="2.77" fill="#a6c0e8"/></g>
<g transform="translate(520.5,266.5) rotate(70)"><ellipse rx="7.50" ry="8.40" fill="#90aedd" stroke="#000" stroke-width="3.0"/><ellipse cx="0.5" cy="-0.5" rx="5.04" ry="5.54" fill="#3f68a5"/><ellipse cx="0.5" cy="-0.5" rx="2.52" ry="2.77" fill="#a6c0e8"/></g>
<g transform="translate(521.7,283) rotate(90)"><ellipse rx="7.50" ry="8.40" fill="#90aedd" stroke="#000" stroke-width="3.0"/><ellipse cx="0.5" cy="-0.5" rx="5.04" ry="5.54" fill="#3f68a5"/><ellipse cx="0.5" cy="-0.5" rx="2.52" ry="2.77" fill="#a6c0e8"/></g>
<g transform="translate(533.6,294.6) rotate(-20)"><ellipse rx="7.30" ry="8.70" fill="#90aedd" stroke="#000" stroke-width="3.0"/><ellipse cx="0.5" cy="-0.5" rx="4.93" ry="5.71" fill="#3f68a5"/><ellipse cx="0.5" cy="-0.5" rx="2.46" ry="2.86" fill="#a6c0e8"/></g>
<g transform="translate(549.2,300.5) rotate(-10)"><ellipse rx="7.30" ry="8.70" fill="#90aedd" stroke="#000" stroke-width="3.0"/><ellipse cx="0.5" cy="-0.5" rx="4.93" ry="5.71" fill="#3f68a5"/><ellipse cx="0.5" cy="-0.5" rx="2.46" ry="2.86" fill="#a6c0e8"/></g>
<g transform="translate(565.1,304.5) rotate(-10)"><ellipse rx="7.30" ry="8.70" fill="#90aedd" stroke="#000" stroke-width="3.0"/><ellipse cx="0.5" cy="-0.5" rx="4.93" ry="5.71" fill="#3f68a5"/><ellipse cx="0.5" cy="-0.5" rx="2.46" ry="2.86" fill="#a6c0e8"/></g>
<g transform="translate(580.3,308) rotate(0)"><ellipse rx="7.30" ry="8.70" fill="#90aedd" stroke="#000" stroke-width="3.0"/><ellipse cx="0.5" cy="-0.5" rx="4.93" ry="5.71" fill="#3f68a5"/><ellipse cx="0.5" cy="-0.5" rx="2.46" ry="2.86" fill="#a6c0e8"/></g>
<g transform="translate(596.4,308) rotate(0)"><ellipse rx="7.30" ry="8.70" fill="#90aedd" stroke="#000" stroke-width="3.0"/><ellipse cx="0.5" cy="-0.5" rx="4.93" ry="5.71" fill="#3f68a5"/><ellipse cx="0.5" cy="-0.5" rx="2.46" ry="2.86" fill="#a6c0e8"/></g>
<g transform="translate(611.2,310.4) rotate(0)"><ellipse rx="7.30" ry="8.70" fill="#90aedd" stroke="#000" stroke-width="3.0"/><ellipse cx="0.5" cy="-0.5" rx="4.93" ry="5.71" fill="#3f68a5"/><ellipse cx="0.5" cy="-0.5" rx="2.46" ry="2.86" fill="#a6c0e8"/></g>
<g transform="translate(625.8,313.9) rotate(0)"><ellipse rx="7.30" ry="8.70" fill="#90aedd" stroke="#000" stroke-width="3.0"/><ellipse cx="0.5" cy="-0.5" rx="4.93" ry="5.71" fill="#3f68a5"/><ellipse cx="0.5" cy="-0.5" rx="2.46" ry="2.86" fill="#a6c0e8"/></g>
<g transform="translate(640.3,315.2) rotate(0)"><ellipse rx="7.30" ry="8.70" fill="#90aedd" stroke="#000" stroke-width="3.0"/><ellipse cx="0.5" cy="-0.5" rx="4.93" ry="5.71" fill="#3f68a5"/><ellipse cx="0.5" cy="-0.5" rx="2.46" ry="2.86" fill="#a6c0e8"/></g>
<g transform="translate(426.7,437.8) rotate(-20)"><ellipse rx="9.80" ry="9.30" fill="#90aedd" stroke="#000" stroke-width="3.0"/><ellipse rx="5.65" ry="4.54" fill="#9db8e2" stroke="#3c66a4" stroke-width="2.8"/></g>
<g transform="translate(444.1,427.9) rotate(-15)"><ellipse rx="9.80" ry="9.30" fill="#90aedd" stroke="#000" stroke-width="3.0"/><ellipse rx="5.65" ry="4.54" fill="#9db8e2" stroke="#3c66a4" stroke-width="2.8"/></g>
<g transform="translate(465.8,426.6) rotate(10)"><ellipse rx="9.80" ry="9.30" fill="#90aedd" stroke="#000" stroke-width="3.0"/><ellipse rx="5.65" ry="4.54" fill="#9db8e2" stroke="#3c66a4" stroke-width="2.8"/></g>
<g transform="translate(486.8,434.7) rotate(25)"><ellipse rx="9.80" ry="9.30" fill="#90aedd" stroke="#000" stroke-width="3.0"/><ellipse rx="5.65" ry="4.54" fill="#9db8e2" stroke="#3c66a4" stroke-width="2.8"/></g>
<g transform="translate(504.8,447.7) rotate(35)"><ellipse rx="9.80" ry="9.30" fill="#90aedd" stroke="#000" stroke-width="3.0"/><ellipse rx="5.65" ry="4.54" fill="#9db8e2" stroke="#3c66a4" stroke-width="2.8"/></g>
<g transform="translate(510.5,468.5) rotate(10)"><ellipse rx="10.00" ry="9.00" fill="#90aedd" stroke="#000" stroke-width="3.0"/><ellipse rx="5.75" ry="4.41" fill="#9db8e2" stroke="#3c66a4" stroke-width="2.8"/></g>
<g transform="translate(511.8,488.5) rotate(0)"><ellipse rx="10.00" ry="8.50" fill="#90aedd" stroke="#000" stroke-width="3.0"/><ellipse rx="5.75" ry="4.20" fill="#9db8e2" stroke="#3c66a4" stroke-width="2.8"/></g>
<g transform="translate(510,507) rotate(0)"><ellipse rx="10.00" ry="8.50" fill="#90aedd" stroke="#000" stroke-width="3.0"/><ellipse rx="5.75" ry="4.20" fill="#9db8e2" stroke="#3c66a4" stroke-width="2.8"/></g>
<g transform="translate(504,523) rotate(0)"><ellipse rx="10.00" ry="8.50" fill="#90aedd" stroke="#000" stroke-width="3.0"/><ellipse rx="5.75" ry="4.20" fill="#9db8e2" stroke="#3c66a4" stroke-width="2.8"/></g>
<g transform="translate(502.3,544) rotate(0)"><ellipse rx="10.00" ry="8.50" fill="#90aedd" stroke="#000" stroke-width="3.0"/><ellipse rx="5.75" ry="4.20" fill="#9db8e2" stroke="#3c66a4" stroke-width="2.8"/></g>
<g transform="translate(509.2,562.4) rotate(10)"><ellipse rx="10.00" ry="8.50" fill="#90aedd" stroke="#000" stroke-width="3.0"/><ellipse rx="5.75" ry="4.20" fill="#9db8e2" stroke="#3c66a4" stroke-width="2.8"/></g>
<g transform="translate(529.8,558.5) rotate(-20)"><ellipse rx="10.00" ry="8.50" fill="#90aedd" stroke="#000" stroke-width="3.0"/><ellipse rx="5.75" ry="4.20" fill="#9db8e2" stroke="#3c66a4" stroke-width="2.8"/></g>
<g transform="translate(541.6,543.7) rotate(0)"><ellipse rx="10.00" ry="8.50" fill="#90aedd" stroke="#000" stroke-width="3.0"/><ellipse rx="5.75" ry="4.20" fill="#9db8e2" stroke="#3c66a4" stroke-width="2.8"/></g>
<g transform="translate(542,525) rotate(0)"><ellipse rx="10.00" ry="8.50" fill="#90aedd" stroke="#000" stroke-width="3.0"/><ellipse rx="5.75" ry="4.20" fill="#9db8e2" stroke="#3c66a4" stroke-width="2.8"/></g>
<g transform="translate(600.2,410.6) rotate(0)"><ellipse rx="8.00" ry="8.90" fill="#90aedd" stroke="#000" stroke-width="3.0"/><ellipse cx="0.5" cy="-0.5" rx="5.32" ry="5.82" fill="#3f68a5"/><ellipse cx="0.5" cy="-0.5" rx="2.66" ry="2.91" fill="#a6c0e8"/></g>
<g transform="translate(615.3,415.1) rotate(0)"><ellipse rx="8.00" ry="8.90" fill="#90aedd" stroke="#000" stroke-width="3.0"/><ellipse cx="0.5" cy="-0.5" rx="5.32" ry="5.82" fill="#3f68a5"/><ellipse cx="0.5" cy="-0.5" rx="2.66" ry="2.91" fill="#a6c0e8"/></g>
<g transform="translate(630.8,418.1) rotate(0)"><ellipse rx="8.00" ry="8.90" fill="#90aedd" stroke="#000" stroke-width="3.0"/><ellipse cx="0.5" cy="-0.5" rx="5.32" ry="5.82" fill="#3f68a5"/><ellipse cx="0.5" cy="-0.5" rx="2.66" ry="2.91" fill="#a6c0e8"/></g>
<g transform="translate(646.6,416) rotate(0)"><ellipse rx="8.00" ry="8.90" fill="#90aedd" stroke="#000" stroke-width="3.0"/><ellipse cx="0.5" cy="-0.5" rx="5.32" ry="5.82" fill="#3f68a5"/><ellipse cx="0.5" cy="-0.5" rx="2.66" ry="2.91" fill="#a6c0e8"/></g>
<g transform="translate(585,419.7) rotate(0)"><ellipse rx="8.00" ry="8.90" fill="#90aedd" stroke="#000" stroke-width="3.0"/><ellipse cx="0.5" cy="-0.5" rx="5.32" ry="5.82" fill="#3f68a5"/><ellipse cx="0.5" cy="-0.5" rx="2.66" ry="2.91" fill="#a6c0e8"/></g>
<g transform="translate(576.3,432) rotate(0)"><ellipse rx="8.00" ry="8.90" fill="#90aedd" stroke="#000" stroke-width="3.0"/><ellipse cx="0.5" cy="-0.5" rx="5.32" ry="5.82" fill="#3f68a5"/><ellipse cx="0.5" cy="-0.5" rx="2.66" ry="2.91" fill="#a6c0e8"/></g>
<g transform="translate(583.8,449) rotate(0)"><ellipse rx="8.00" ry="8.90" fill="#90aedd" stroke="#000" stroke-width="3.0"/><ellipse cx="0.5" cy="-0.5" rx="5.32" ry="5.82" fill="#3f68a5"/><ellipse cx="0.5" cy="-0.5" rx="2.66" ry="2.91" fill="#a6c0e8"/></g>
<g transform="translate(594,464.5) rotate(0)"><ellipse rx="8.00" ry="8.90" fill="#90aedd" stroke="#000" stroke-width="3.0"/><ellipse cx="0.5" cy="-0.5" rx="5.32" ry="5.82" fill="#3f68a5"/><ellipse cx="0.5" cy="-0.5" rx="2.66" ry="2.91" fill="#a6c0e8"/></g>
<g transform="translate(606.1,477.7) rotate(0)"><ellipse rx="8.00" ry="8.90" fill="#90aedd" stroke="#000" stroke-width="3.0"/><ellipse cx="0.5" cy="-0.5" rx="5.32" ry="5.82" fill="#3f68a5"/><ellipse cx="0.5" cy="-0.5" rx="2.66" ry="2.91" fill="#a6c0e8"/></g>
<g transform="translate(621.5,486.5) rotate(0)"><ellipse rx="8.00" ry="8.90" fill="#90aedd" stroke="#000" stroke-width="3.0"/><ellipse cx="0.5" cy="-0.5" rx="5.32" ry="5.82" fill="#3f68a5"/><ellipse cx="0.5" cy="-0.5" rx="2.66" ry="2.91" fill="#a6c0e8"/></g>
<g transform="translate(637,492) rotate(0)"><ellipse rx="8.00" ry="8.90" fill="#90aedd" stroke="#000" stroke-width="3.0"/><ellipse cx="0.5" cy="-0.5" rx="5.32" ry="5.82" fill="#3f68a5"/><ellipse cx="0.5" cy="-0.5" rx="2.66" ry="2.91" fill="#a6c0e8"/></g>
<g transform="translate(643.8,506.7) rotate(0)"><ellipse rx="8.00" ry="8.90" fill="#90aedd" stroke="#000" stroke-width="3.0"/><ellipse cx="0.5" cy="-0.5" rx="5.32" ry="5.82" fill="#3f68a5"/><ellipse cx="0.5" cy="-0.5" rx="2.66" ry="2.91" fill="#a6c0e8"/></g>
<g transform="translate(641,525.5) rotate(0)"><ellipse rx="8.00" ry="8.90" fill="#90aedd" stroke="#000" stroke-width="3.0"/><ellipse cx="0.5" cy="-0.5" rx="5.32" ry="5.82" fill="#3f68a5"/><ellipse cx="0.5" cy="-0.5" rx="2.66" ry="2.91" fill="#a6c0e8"/></g>
<g transform="translate(632.3,541.6) rotate(0)"><ellipse rx="8.00" ry="8.90" fill="#90aedd" stroke="#000" stroke-width="3.0"/><ellipse cx="0.5" cy="-0.5" rx="5.32" ry="5.82" fill="#3f68a5"/><ellipse cx="0.5" cy="-0.5" rx="2.66" ry="2.91" fill="#a6c0e8"/></g>
<g transform="translate(616.8,541.8) rotate(0)"><ellipse rx="8.00" ry="8.90" fill="#90aedd" stroke="#000" stroke-width="3.0"/><ellipse cx="0.5" cy="-0.5" rx="5.32" ry="5.82" fill="#3f68a5"/><ellipse cx="0.5" cy="-0.5" rx="2.66" ry="2.91" fill="#a6c0e8"/></g>
<g transform="translate(600.1,537.6) rotate(0)"><ellipse rx="8.00" ry="8.90" fill="#90aedd" stroke="#000" stroke-width="3.0"/><ellipse cx="0.5" cy="-0.5" rx="5.32" ry="5.82" fill="#3f68a5"/><ellipse cx="0.5" cy="-0.5" rx="2.66" ry="2.91" fill="#a6c0e8"/></g>
<g transform="translate(700.3,334) rotate(0)"><ellipse rx="10.00" ry="13.00" fill="#90aedd" stroke="#000" stroke-width="3.0"/><ellipse rx="5.40" ry="6.38" fill="#9db8e2" stroke="#3c66a4" stroke-width="2.9"/></g>
<g transform="translate(707.6,356.5) rotate(0)"><ellipse rx="10.00" ry="13.00" fill="#90aedd" stroke="#000" stroke-width="3.0"/><ellipse rx="5.40" ry="6.38" fill="#9db8e2" stroke="#3c66a4" stroke-width="2.9"/></g>
<g transform="translate(704.6,381) rotate(0)"><ellipse rx="10.00" ry="13.00" fill="#90aedd" stroke="#000" stroke-width="3.0"/><ellipse rx="5.40" ry="6.38" fill="#9db8e2" stroke="#3c66a4" stroke-width="2.9"/></g>
<g transform="translate(711,401.5) rotate(0)"><ellipse rx="10.00" ry="13.00" fill="#90aedd" stroke="#000" stroke-width="3.0"/><ellipse rx="5.40" ry="6.38" fill="#9db8e2" stroke="#3c66a4" stroke-width="2.9"/></g>
<g transform="translate(705.4,423) rotate(0)"><ellipse rx="10.00" ry="13.00" fill="#90aedd" stroke="#000" stroke-width="3.0"/><ellipse rx="5.40" ry="6.38" fill="#9db8e2" stroke="#3c66a4" stroke-width="2.9"/></g>
<g transform="translate(715.1,448.5) rotate(0)"><ellipse rx="10.00" ry="13.00" fill="#90aedd" stroke="#000" stroke-width="3.0"/><ellipse rx="5.40" ry="6.38" fill="#9db8e2" stroke="#3c66a4" stroke-width="2.9"/></g>
<g transform="translate(660,323) rotate(0)"><ellipse rx="10.00" ry="13.00" fill="#90aedd" stroke="#000" stroke-width="3.0"/><ellipse rx="5.40" ry="6.38" fill="#9db8e2" stroke="#3c66a4" stroke-width="2.9"/></g>
<g transform="translate(681.5,331.5) rotate(0)"><ellipse rx="10.00" ry="13.00" fill="#90aedd" stroke="#000" stroke-width="3.0"/><ellipse rx="5.40" ry="6.38" fill="#9db8e2" stroke="#3c66a4" stroke-width="2.9"/></g>
<g transform="translate(727,337) rotate(0)"><ellipse rx="10.80" ry="13.80" fill="#90aedd" stroke="#000" stroke-width="3.0"/><ellipse rx="5.78" ry="6.73" fill="#9db8e2" stroke="#3c66a4" stroke-width="2.9"/></g>
<g transform="translate(666,352) rotate(0)"><ellipse rx="10.00" ry="13.00" fill="#90aedd" stroke="#000" stroke-width="3.0"/><ellipse rx="5.40" ry="6.38" fill="#9db8e2" stroke="#3c66a4" stroke-width="2.9"/></g>
<g transform="translate(687.7,355) rotate(0)"><ellipse rx="10.00" ry="13.00" fill="#90aedd" stroke="#000" stroke-width="3.0"/><ellipse rx="5.40" ry="6.38" fill="#9db8e2" stroke="#3c66a4" stroke-width="2.9"/></g>
<g transform="translate(727,368) rotate(0)"><ellipse rx="10.80" ry="13.80" fill="#90aedd" stroke="#000" stroke-width="3.0"/><ellipse rx="5.78" ry="6.73" fill="#9db8e2" stroke="#3c66a4" stroke-width="2.9"/></g>
<g transform="translate(684.8,378) rotate(0)"><ellipse rx="10.00" ry="13.00" fill="#90aedd" stroke="#000" stroke-width="3.0"/><ellipse rx="5.40" ry="6.38" fill="#9db8e2" stroke="#3c66a4" stroke-width="2.9"/></g>
<g transform="translate(663.2,381) rotate(0)"><ellipse rx="10.00" ry="13.00" fill="#90aedd" stroke="#000" stroke-width="3.0"/><ellipse rx="5.40" ry="6.38" fill="#9db8e2" stroke="#3c66a4" stroke-width="2.9"/></g>
<g transform="translate(730.8,395) rotate(0)"><ellipse rx="10.80" ry="13.80" fill="#90aedd" stroke="#000" stroke-width="3.0"/><ellipse rx="5.78" ry="6.73" fill="#9db8e2" stroke="#3c66a4" stroke-width="2.9"/></g>
<g transform="translate(691.5,401) rotate(0)"><ellipse rx="10.00" ry="13.00" fill="#90aedd" stroke="#000" stroke-width="3.0"/><ellipse rx="5.40" ry="6.38" fill="#9db8e2" stroke="#3c66a4" stroke-width="2.9"/></g>
<g transform="translate(661.3,410.5) rotate(0)"><ellipse rx="10.00" ry="13.00" fill="#90aedd" stroke="#000" stroke-width="3.0"/><ellipse rx="5.40" ry="6.38" fill="#9db8e2" stroke="#3c66a4" stroke-width="2.9"/></g>
<g transform="translate(727.4,423.6) rotate(0)"><ellipse rx="10.80" ry="13.80" fill="#90aedd" stroke="#000" stroke-width="3.0"/><ellipse rx="5.78" ry="6.73" fill="#9db8e2" stroke="#3c66a4" stroke-width="2.9"/></g>
<g transform="translate(684.5,425.5) rotate(0)"><ellipse rx="10.00" ry="13.00" fill="#90aedd" stroke="#000" stroke-width="3.0"/><ellipse rx="5.40" ry="6.38" fill="#9db8e2" stroke="#3c66a4" stroke-width="2.9"/></g>
<g transform="translate(696.2,449.5) rotate(0)"><ellipse rx="10.00" ry="13.00" fill="#90aedd" stroke="#000" stroke-width="3.0"/><ellipse rx="5.40" ry="6.38" fill="#9db8e2" stroke="#3c66a4" stroke-width="2.9"/></g>
<path d="M582.1,111.7 L595.8,179.5" stroke="#000" stroke-width="1.7"/>
<path d="M756.3,254.8 L694.8,297.2" stroke="#000" stroke-width="1.7"/>
<path d="M605.2,371.9 L777.5,514.2" stroke="#000" stroke-width="1.8"/>
<path d="M532,496.8 L633.3,595.6" stroke="#000" stroke-width="1.8"/>
<text x="323.7" y="129.5" textLength="53.3" lengthAdjust="spacingAndGlyphs" font-size="21" stroke="#000" stroke-width="0.35">Villus</text>
<text x="529.1" y="99.7" textLength="159" lengthAdjust="spacingAndGlyphs" font-size="21" stroke="#000" stroke-width="0.35">Cytotrophoblast</text>
<text x="674.1" y="247.1" textLength="197.7" lengthAdjust="spacingAndGlyphs" font-size="21" stroke="#000" stroke-width="0.35">Syncytiotrophoblast</text>
<text x="791.3" y="503.3" textLength="46.2" lengthAdjust="spacingAndGlyphs" font-size="21" stroke="#000" stroke-width="0.35">Fetal</text>
<text x="765.8" y="532.5" textLength="101.7" lengthAdjust="spacingAndGlyphs" font-size="21" stroke="#000" stroke-width="0.35">Capillaries</text>
<text x="596.7" y="610.4" textLength="75" lengthAdjust="spacingAndGlyphs" font-size="21" stroke="#000" stroke-width="0.35">Stromal</text>
<text x="615.3" y="639" textLength="44" lengthAdjust="spacingAndGlyphs" font-size="21" stroke="#000" stroke-width="0.35">Cells</text>
</svg>
</body></html>
